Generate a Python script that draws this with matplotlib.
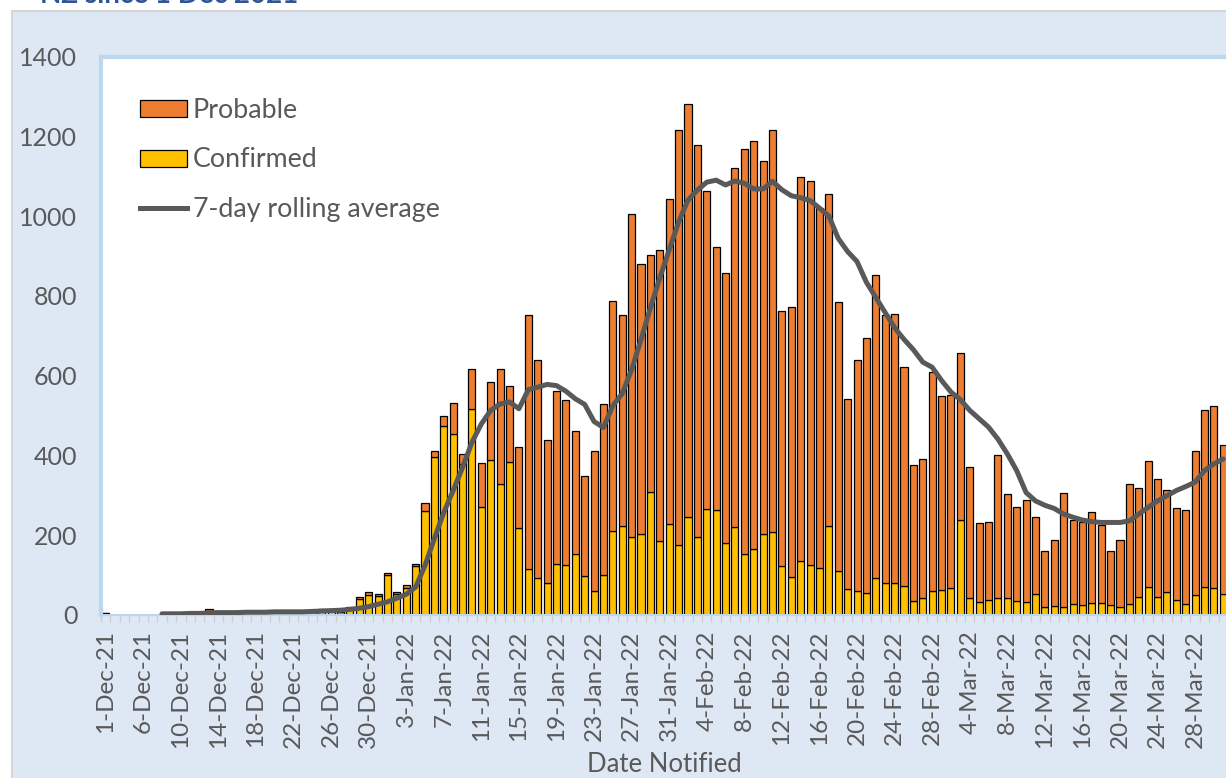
import matplotlib.pyplot as plt
import pandas as pd
import numpy as np
from matplotlib.patches import Patch, Rectangle
from matplotlib.lines import Line2D

plt.rcParams['font.family'] = ['Lato', 'DejaVu Sans']

# categories: 1 Dec 2021 - 31 Mar 2022 (no 2-Dec in the source)
days = [d for d in pd.date_range("2021-12-01", "2022-03-31") if d != pd.Timestamp("2021-12-02")]
labels = [f"{d.day}-{d.strftime('%b-%y')}" for d in days]

confirmed = [4, 1, 1, 0, 1, 1, 3, 3, 3, 3, 4, 10, 6, 5, 5, 5, 4, 6, 8, 6,
             5, 7, 9, 10, 9, 8, 15, 40, 50, 47, 100, 52, 68, 122, 260, 395, 475, 454, 379, 517,
             271, 389, 328, 383, 219, 115, 94, 81, 127, 125, 152, 99, 60, 100, 210, 223, 195, 204, 309, 185,
             228, 176, 245, 195, 266, 262, 180, 221, 152, 166, 202, 207, 123, 95, 136, 126, 119, 224, 110, 65,
             60, 54, 94, 79, 79, 73, 35, 42, 60, 62, 67, 238, 43, 33, 37, 42, 42, 35, 33, 52,
             20, 23, 20, 27, 24, 31, 31, 24, 20, 27, 45, 69, 45, 58, 37, 27, 50, 70, 67, 52]

probable = [1, 0, 0, 0, 0, 0, 0, 1, 0, 1, 1, 5, 4, 2, 1, 1, 1, 1, 3, 1,
            1, 1, 2, 6, 3, 2, 4, 4, 7, 5, 5, 6, 7, 6, 20, 17, 24, 78, 25, 99,
            110, 195, 289, 192, 203, 636, 544, 358, 434, 415, 309, 250, 352, 428, 577, 529, 810, 676, 593, 730,
            814, 1040, 1036, 982, 798, 660, 678, 900, 1015, 1022, 935, 1009, 638, 677, 961, 961, 900, 831, 675, 477,
            578, 641, 758, 672, 675, 548, 341, 349, 549, 488, 485, 419, 329, 197, 195, 359, 261, 235, 255, 193,
            141, 165, 287, 211, 208, 226, 195, 137, 168, 301, 273, 318, 296, 255, 230, 236, 362, 444, 456, 375]

rolling = [None, None, None, None, None, None, 3, 3, 3, 4, 4, 5, 6, 6, 6, 7, 7, 7, 8, 8,
           8, 8, 9, 10, 11, 12, 14, 17, 21, 27, 33, 42, 52, 70, 124, 192, 257, 312, 370, 433,
           479, 513, 529, 534, 517, 565, 571, 578, 575, 561, 542, 528, 485, 470, 525, 555, 615, 690, 770, 845,
           915, 985, 1040, 1065, 1085, 1090, 1078, 1088, 1082, 1068, 1068, 1087, 1066, 1051, 1046, 1039, 1020, 1000, 944, 911,
           886, 834, 796, 758, 720, 691, 665, 634, 621, 588, 559, 540, 513, 492, 471, 441, 404, 362, 307, 286,
           275, 267, 253, 245, 238, 234, 232, 232, 232, 236, 253, 270, 286, 299, 312, 322, 333, 362, 379, 391]

x = np.arange(len(days))
roll = np.array([np.nan if v is None else v for v in rolling], dtype=float)

W, H = 1226, 778
fig = plt.figure(figsize=(W / 100, H / 100), dpi=100, facecolor='white')

# chart area background (sits behind the axes)
fig.patches.append(Rectangle((12 / W, -0.1), 1.2, 1.1 - 11 / H, transform=fig.transFigure,
                             facecolor='#DEE8F4', edgecolor='#D6D6D6', lw=1.5, zorder=-5))
# title is cropped at the top of the reference, only its bottom shows
fig.text(40 / W, 1 - 3 / H, "NZ since 1 Dec 2021", color='#2F5597', fontsize=20,
         fontweight='bold', va='baseline', ha='left')

ax = fig.add_axes([101 / W, (H - 615) / H, (1228 - 101) / W, (615 - 56.5) / H])
ax.set_facecolor('white')

ax.bar(x, confirmed, width=0.75, color='#FFC000', edgecolor='black', linewidth=0.9, zorder=2)
ax.bar(x, probable, width=0.75, bottom=confirmed, color='#ED7D31', edgecolor='black',
       linewidth=0.9, zorder=2)
ax.plot(x, roll, color='#595959', lw=3.6, solid_capstyle='round', zorder=3)

ax.set_xlim(-0.5, len(days) - 0.5)
ax.set_ylim(0, 1400)
ax.set_yticks(range(0, 1401, 200))
ax.set_xticks(x[::4])
ax.set_xticklabels(labels[::4], rotation=90)
ax.set_xticks(np.arange(-0.5, len(days), 1), minor=True)

ax.tick_params(axis='y', length=0, pad=17, labelsize=18, labelcolor='#595959')
ax.tick_params(axis='x', which='major', length=0, pad=11, labelsize=17.5, labelcolor='#595959')
ax.tick_params(axis='x', which='minor', length=5, width=1, color='#CFCFCF')

for side in ['left', 'top', 'bottom']:
    ax.spines[side].set_color('#BDD7EE')
    ax.spines[side].set_linewidth(3)
ax.spines['right'].set_visible(False)
ax.spines['bottom'].set_linewidth(1.5)

ax.set_xlabel("Date Notified", fontsize=18.5, color='#595959', va='center')
ax.xaxis.set_label_coords(0.5, (615 - 765) / (615 - 56.5))

handles = [Patch(facecolor='#ED7D31', edgecolor='black', lw=0.9),
           Patch(facecolor='#FFC000', edgecolor='black', lw=0.9),
           Line2D([], [], color='#595959', lw=3.6)]
ax.legend(handles, ["Probable", "Confirmed", "7-day rolling average"], loc='upper left',
          bbox_to_anchor=(0.035, 0.926), frameon=False, fontsize=19.3, borderpad=0,
          borderaxespad=0, handlelength=1.75, handleheight=0.6, handletextpad=0.2,
          labelspacing=0.92, labelcolor='#595959')

fig.savefig("out.png", dpi=100, facecolor='white')
